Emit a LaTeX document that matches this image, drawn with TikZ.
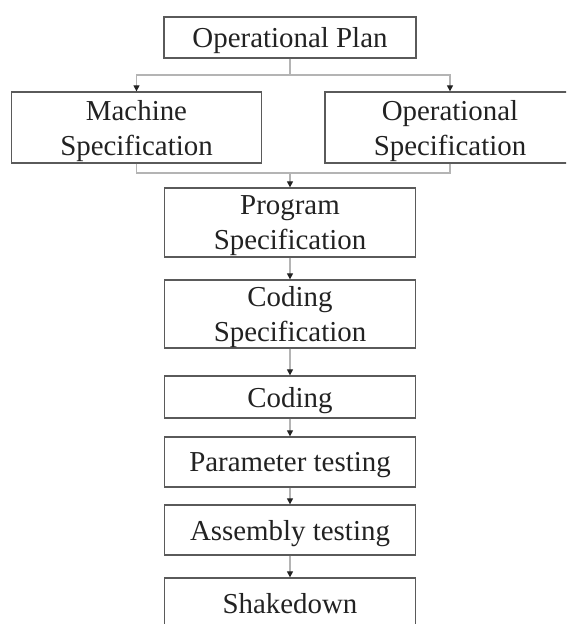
\documentclass[tikz,border=0pt]{standalone}
\usepackage{fontspec}
\setmainfont{Liberation Serif}
\usetikzlibrary{arrows.meta}
\definecolor{framegray}{HTML}{5A5A5A}
\definecolor{linkgray}{HTML}{B4B4B4}
\definecolor{inkgray}{HTML}{222222}
\tikzset{
  stepbox/.style={draw=framegray, line width=1.3pt, rectangle, align=center,
    inner sep=0pt, text=inkgray, text depth=0pt,
    font=\fontsize{28.9}{35}\selectfont},
  link/.style={draw=linkgray, line width=1.2pt},
  linkarrow/.style={link, -{Triangle[length=6pt,width=6pt,color=inkgray]}}
}
\begin{document}
\begin{tikzpicture}[x=1pt, y=-1pt]
  \useasboundingbox (0,0) rectangle (566,624);
  \clip (0,0) rectangle (566,624);

  % boxes, centres and sizes in picture units
  \node[stepbox, minimum width=252pt, minimum height=41pt] (plan) at (290,37.5) {Operational Plan};
  \node[stepbox, minimum width=250pt, minimum height=71pt] (mach) at (136.5,127.5) {Machine\\Specification};
  \node[stepbox, minimum width=250pt, minimum height=71pt] (ospec) at (450,127.5) {Operational\\Specification};
  \node[stepbox, minimum width=251pt, minimum height=69pt] (prog) at (290,222.5) {Program\\Specification};
  \node[stepbox, minimum width=251pt, minimum height=68pt] (cspec) at (290,314) {Coding\\Specification};
  \node[stepbox, minimum width=251pt, minimum height=42pt] (coding) at (290,397) {Coding};
  \node[stepbox, minimum width=251pt, minimum height=50pt] (param) at (290,462) {Parameter testing};
  \node[stepbox, minimum width=251pt, minimum height=50pt] (asm) at (290,530) {Assembly testing};
  \node[stepbox, minimum width=251pt, minimum height=50pt] (shake) at (290,603) {Shakedown};

  % junction points of the split and the merge
  \coordinate (split) at (290,75);
  \coordinate (merge) at (290,173);

  % split from the plan into the two specifications
  \draw[link] (plan.south) -- (split);
  \draw[linkarrow] (split) -| (mach.north);
  \draw[linkarrow] (split) -| (ospec.north);

  % merge of the two specifications into the program specification
  \draw[link] (mach.south) |- (merge);
  \draw[link] (ospec.south) |- (merge);
  \draw[linkarrow] (merge) -- (prog.north);

  % straight chain below
  \draw[linkarrow] (prog.south) -- (cspec.north);
  \draw[linkarrow] (cspec.south) -- (coding.north);
  \draw[linkarrow] (coding.south) -- (param.north);
  \draw[linkarrow] (param.south) -- (asm.north);
  \draw[linkarrow] (asm.south) -- (shake.north);
\end{tikzpicture}
\end{document}
